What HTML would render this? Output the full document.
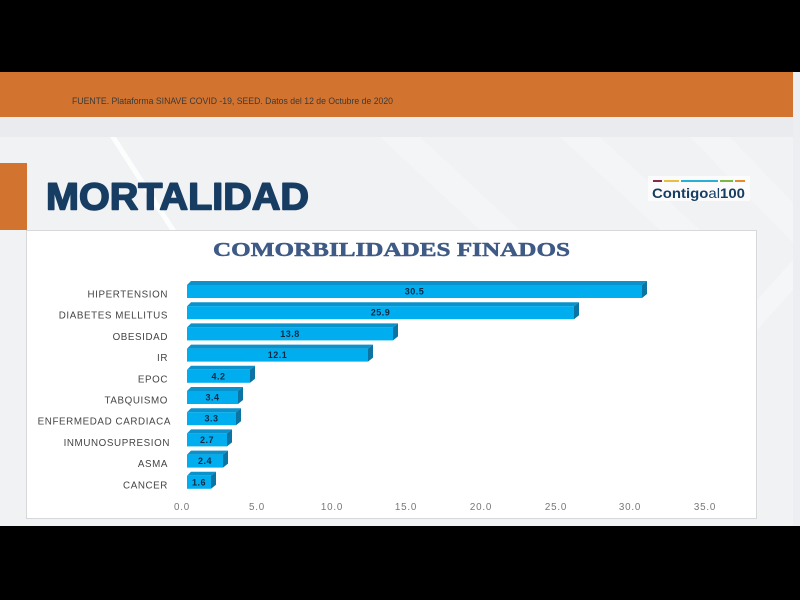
<!DOCTYPE html>
<html><head><meta charset="utf-8"><style>
html,body{margin:0;padding:0;background:#000;}
svg{display:block;}
</style></head><body>
<svg width="800" height="600" viewBox="0 0 800 600" xmlns="http://www.w3.org/2000/svg" font-family="Liberation Sans, sans-serif">
<rect width="800" height="600" fill="#000"/>
<!-- slide background -->
<rect x="0" y="72" width="800" height="454" fill="#f1f2f4"/>
<rect x="0" y="117" width="800" height="20" fill="#e9ebee"/>
<!-- diagonal streaks -->
<polygon points="110,137 116,137 176,230 170,230" fill="#ffffff" opacity="0.8"/>
<polygon points="380,137 420,137 520,230 480,230" fill="#ffffff" opacity="0.25"/>
<polygon points="560,137 600,137 700,230 660,230" fill="#ffffff" opacity="0.25"/>
<polygon points="690,137 730,137 800,210 800,250" fill="#ffffff" opacity="0.25"/>
<polygon points="757,300 793,260 793,290 757,330" fill="#ffffff" opacity="0.3"/>
<!-- orange band -->
<rect x="0" y="72" width="793" height="45" fill="#d27430"/>
<rect x="793" y="72" width="7" height="454" fill="#eceef1"/>
<text x="72" y="104" font-size="9" fill="#3a3a3a" textLength="321" lengthAdjust="spacingAndGlyphs">FUENTE. Plataforma SINAVE COVID -19, SEED. Datos del 12 de Octubre de 2020</text>
<!-- orange left block -->
<rect x="0" y="163" width="27" height="67" fill="#d27430"/>
<!-- MORTALIDAD -->
<text x="46" y="209.5" font-size="38" font-weight="bold" fill="#173d63" stroke="#173d63" stroke-width="1.6" stroke-linejoin="round" textLength="263" lengthAdjust="spacingAndGlyphs">MORTALIDAD</text>
<!-- logo -->
<rect x="648" y="176" width="102" height="25" fill="#ffffff" opacity="0.7"/>
<rect x="653" y="180" width="9" height="2" fill="#8a2a4a"/>
<rect x="664" y="180" width="15" height="2" fill="#e8c040"/>
<rect x="681" y="180" width="37" height="2" fill="#2ab0d8"/>
<rect x="720" y="180" width="13" height="2" fill="#7ab840"/>
<rect x="735" y="180" width="10" height="2" fill="#e88a30"/>
<text x="652" y="198" font-size="14" font-weight="bold" fill="#173d63" textLength="93" lengthAdjust="spacingAndGlyphs">Contigo<tspan font-weight="normal">al</tspan>100</text>
<!-- chart box -->
<rect x="26.5" y="230.5" width="730" height="288" fill="#ffffff" stroke="#d6d8db"/>
<text x="213" y="256" font-family="Liberation Serif, serif" font-size="20" font-weight="bold" fill="#3e5a85" stroke="#3e5a85" stroke-width="0.5" textLength="357" lengthAdjust="spacingAndGlyphs">COMORBILIDADES FINADOS</text>
<!-- category labels -->
<g font-size="9.8" fill="#444" text-anchor="end" letter-spacing="0.6">
<text x="168" y="297.5">HIPERTENSION</text>
<text x="168" y="318.7">DIABETES MELLITUS</text>
<text x="168" y="339.9">OBESIDAD</text>
<text x="168" y="361.1">IR</text>
<text x="168" y="382.3">EPOC</text>
<text x="168" y="403.5">TABQUISMO</text>
<text x="171" y="424.7">ENFERMEDAD CARDIACA</text>
<text x="170" y="445.9">INMUNOSUPRESION</text>
<text x="168" y="467.1">ASMA</text>
<text x="168" y="488.3">CANCER</text>
</g>
<g>
<polygon points="187,285 191,281 647,281 642,285" fill="#0a92cc"/>
<polygon points="642,285 647,281 647,294 642,298" fill="#0b74a3"/>
<rect x="187" y="285" width="455" height="13" fill="#00aeef"/>
<polygon points="187,306.2 191,302.2 579,302.2 574,306.2" fill="#0a92cc"/>
<polygon points="574,306.2 579,302.2 579,315.2 574,319.2" fill="#0b74a3"/>
<rect x="187" y="306.2" width="387" height="13" fill="#00aeef"/>
<polygon points="187,327.4 191,323.4 398,323.4 393,327.4" fill="#0a92cc"/>
<polygon points="393,327.4 398,323.4 398,336.4 393,340.4" fill="#0b74a3"/>
<rect x="187" y="327.4" width="206" height="13" fill="#00aeef"/>
<polygon points="187,348.6 191,344.6 373,344.6 368,348.6" fill="#0a92cc"/>
<polygon points="368,348.6 373,344.6 373,357.6 368,361.6" fill="#0b74a3"/>
<rect x="187" y="348.6" width="181" height="13" fill="#00aeef"/>
<polygon points="187,369.8 191,365.8 255,365.8 250,369.8" fill="#0a92cc"/>
<polygon points="250,369.8 255,365.8 255,378.8 250,382.8" fill="#0b74a3"/>
<rect x="187" y="369.8" width="63" height="13" fill="#00aeef"/>
<polygon points="187,391 191,387 243,387 238,391" fill="#0a92cc"/>
<polygon points="238,391 243,387 243,400 238,404" fill="#0b74a3"/>
<rect x="187" y="391" width="51" height="13" fill="#00aeef"/>
<polygon points="187,412.2 191,408.2 241,408.2 236,412.2" fill="#0a92cc"/>
<polygon points="236,412.2 241,408.2 241,421.2 236,425.2" fill="#0b74a3"/>
<rect x="187" y="412.2" width="49" height="13" fill="#00aeef"/>
<polygon points="187,433.4 191,429.4 232,429.4 227,433.4" fill="#0a92cc"/>
<polygon points="227,433.4 232,429.4 232,442.4 227,446.4" fill="#0b74a3"/>
<rect x="187" y="433.4" width="40" height="13" fill="#00aeef"/>
<polygon points="187,454.6 191,450.6 228,450.6 223,454.6" fill="#0a92cc"/>
<polygon points="223,454.6 228,450.6 228,463.6 223,467.6" fill="#0b74a3"/>
<rect x="187" y="454.6" width="36" height="13" fill="#00aeef"/>
<polygon points="187,475.8 191,471.8 216,471.8 211,475.8" fill="#0a92cc"/>
<polygon points="211,475.8 216,471.8 216,484.8 211,488.8" fill="#0b74a3"/>
<rect x="187" y="475.8" width="24" height="13" fill="#00aeef"/>
</g>
<g font-size="9" font-weight="bold" fill="#0d2a45" text-anchor="middle" letter-spacing="0.5">
<text x="414.5" y="294.5">30.5</text>
<text x="380.5" y="315.7">25.9</text>
<text x="290" y="336.9">13.8</text>
<text x="277.5" y="358.1">12.1</text>
<text x="218.5" y="379.3">4.2</text>
<text x="212.5" y="400.5">3.4</text>
<text x="211.5" y="421.7">3.3</text>
<text x="207" y="442.9">2.7</text>
<text x="205" y="464.1">2.4</text>
<text x="199" y="485.3">1.6</text>
</g>
<g font-size="9.8" fill="#777" text-anchor="middle" letter-spacing="0.8">
<text x="182" y="510">0.0</text>
<text x="257" y="510">5.0</text>
<text x="332" y="510">10.0</text>
<text x="406" y="510">15.0</text>
<text x="481" y="510">20.0</text>
<text x="556" y="510">25.0</text>
<text x="630" y="510">30.0</text>
<text x="705" y="510">35.0</text>
</g>
</svg>
</body></html>
